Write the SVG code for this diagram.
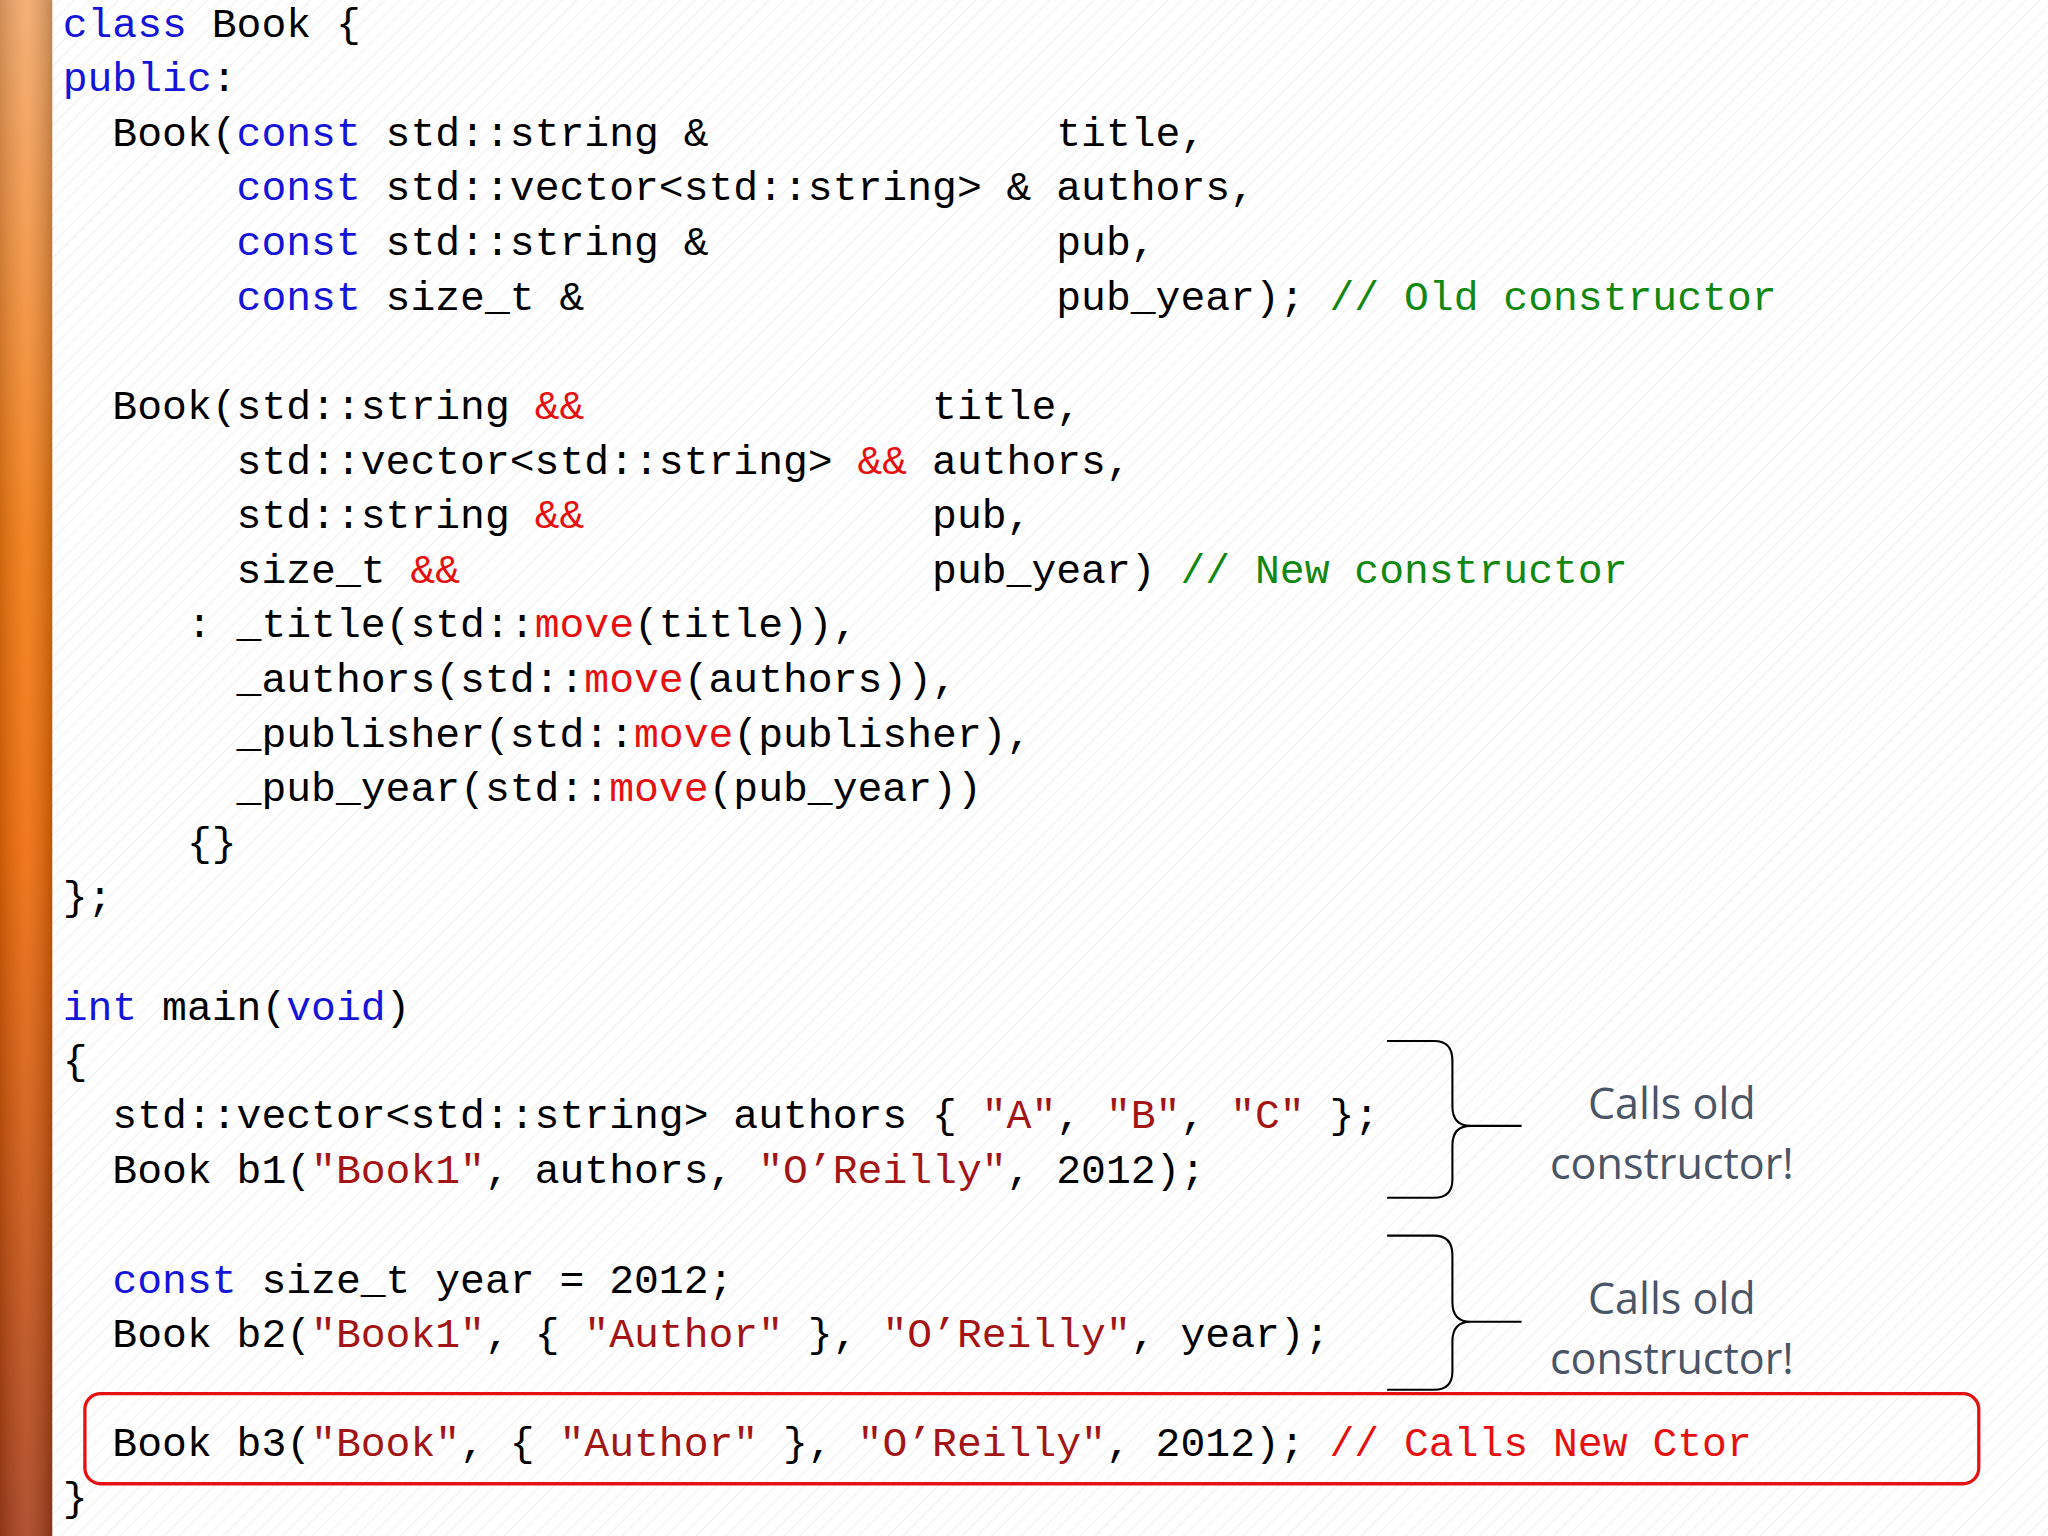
<svg xmlns="http://www.w3.org/2000/svg" width="2048" height="1536" viewBox="0 0 2048 1536">
<defs>
<linearGradient id="bar" x1="0" y1="0" x2="0" y2="1">
<stop offset="0" stop-color="#f3a868"/><stop offset="0.35" stop-color="#f37a10"/><stop offset="0.55" stop-color="#ef6a05"/><stop offset="1" stop-color="#a8401c"/>
</linearGradient>
<linearGradient id="barh" x1="0" y1="0" x2="1" y2="0">
<stop offset="0" stop-color="#000" stop-opacity="0.15"/><stop offset="0.5" stop-color="#fff" stop-opacity="0.1"/><stop offset="1" stop-color="#000" stop-opacity="0.2"/>
</linearGradient>
<pattern id="hatch" width="8" height="8" patternUnits="userSpaceOnUse" patternTransform="rotate(45)">
<line x1="0" y1="0" x2="0" y2="8" stroke="#e6e6e6" stroke-width="1"/>
</pattern>
<style>
.c text{font-family:"Liberation Mono","DejaVu Sans Mono",monospace;font-size:31.7px;fill:#000;white-space:pre}
.k{fill:#1515d8}.r{fill:#e51010}.s{fill:#a31515}.g{fill:#118811}
.n{font-family:"Open Sans","Liberation Sans",sans-serif;font-size:33px;fill:#4a5566;text-anchor:middle}
.br{fill:none;stroke:#000;stroke-width:1.6}
</style>
</defs>
<g transform="scale(1.30612)">
<rect width="1568" height="1176" fill="#fff"/>
<rect x="40" width="1528" height="1176" fill="url(#hatch)"/>
<rect width="40" height="1176" fill="url(#bar)"/>
<rect width="40" height="1176" fill="url(#barh)"/>
<g id="code" class="c">
<text xml:space="preserve" x="48" y="28"><tspan class="k">class</tspan> Book {</text>
<text xml:space="preserve" x="48" y="70"><tspan class="k">public</tspan>:</text>
<text xml:space="preserve" x="48" y="112">  Book(<tspan class="k">const</tspan> std::string &amp;              title,</text>
<text xml:space="preserve" x="48" y="153">       <tspan class="k">const</tspan> std::vector&lt;std::string&gt; &amp; authors,</text>
<text xml:space="preserve" x="48" y="195">       <tspan class="k">const</tspan> std::string &amp;              pub,</text>
<text xml:space="preserve" x="48" y="237">       <tspan class="k">const</tspan> size_t &amp;                   pub_year); <tspan class="g">// Old constructor</tspan></text>
<text xml:space="preserve" x="48" y="321">  Book(std::string <tspan class="r">&amp;&amp;</tspan>              title,</text>
<text xml:space="preserve" x="48" y="363">       std::vector&lt;std::string&gt; <tspan class="r">&amp;&amp;</tspan> authors,</text>
<text xml:space="preserve" x="48" y="404">       std::string <tspan class="r">&amp;&amp;</tspan>              pub,</text>
<text xml:space="preserve" x="48" y="446">       size_t <tspan class="r">&amp;&amp;</tspan>                   pub_year) <tspan class="g">// New constructor</tspan></text>
<text xml:space="preserve" x="48" y="488">     : _title(std::<tspan class="r">move</tspan>(title)),</text>
<text xml:space="preserve" x="48" y="530">       _authors(std::<tspan class="r">move</tspan>(authors)),</text>
<text xml:space="preserve" x="48" y="572">       _publisher(std::<tspan class="r">move</tspan>(publisher),</text>
<text xml:space="preserve" x="48" y="613">       _pub_year(std::<tspan class="r">move</tspan>(pub_year))</text>
<text xml:space="preserve" x="48" y="655">     {}</text>
<text xml:space="preserve" x="48" y="697">};</text>
<text xml:space="preserve" x="48" y="781"><tspan class="k">int</tspan> main(<tspan class="k">void</tspan>)</text>
<text xml:space="preserve" x="48" y="822">{</text>
<text xml:space="preserve" x="48" y="864">  std::vector&lt;std::string&gt; authors { <tspan class="s">"A"</tspan>, <tspan class="s">"B"</tspan>, <tspan class="s">"C"</tspan> };</text>
<text xml:space="preserve" x="48" y="906">  Book b1(<tspan class="s">"Book1"</tspan>, authors, <tspan class="s">"O’Reilly"</tspan>, 2012);</text>
<text xml:space="preserve" x="48" y="990">  <tspan class="k">const</tspan> size_t year = 2012;</text>
<text xml:space="preserve" x="48" y="1031">  Book b2(<tspan class="s">"Book1"</tspan>, { <tspan class="s">"Author"</tspan> }, <tspan class="s">"O’Reilly"</tspan>, year);</text>
<text xml:space="preserve" x="48" y="1115">  Book b3(<tspan class="s">"Book"</tspan>, { <tspan class="s">"Author"</tspan> }, <tspan class="s">"O’Reilly"</tspan>, 2012); <tspan class="r">// Calls New Ctor</tspan></text>
<text xml:space="preserve" x="48" y="1157">}</text>
</g>
<g id="brace1">
<path class="br" d="M1062,797 H1098 Q1112,797 1112,812 V847 Q1112,862 1126,862 H1165 H1126 Q1112,862 1112,877 V903 Q1112,917 1098,917 H1062"/>
<text class="n" x="1280" y="857">Calls old</text>
<text class="n" x="1280" y="903">constructor!</text>
</g>
<g id="brace2">
<path class="br" d="M1062,946 H1098 Q1112,946 1112,961 V997 Q1112,1012 1126,1012 H1165 H1126 Q1112,1012 1112,1027 V1050 Q1112,1064 1098,1064 H1062"/>
<text class="n" x="1280" y="1006">Calls old</text>
<text class="n" x="1280" y="1052">constructor!</text>
</g>
<g id="highlight">
<rect x="65" y="1067" width="1450" height="69" rx="12" fill="none" stroke="#e51010" stroke-width="2.5"/>
</g>
</g>
</svg>
